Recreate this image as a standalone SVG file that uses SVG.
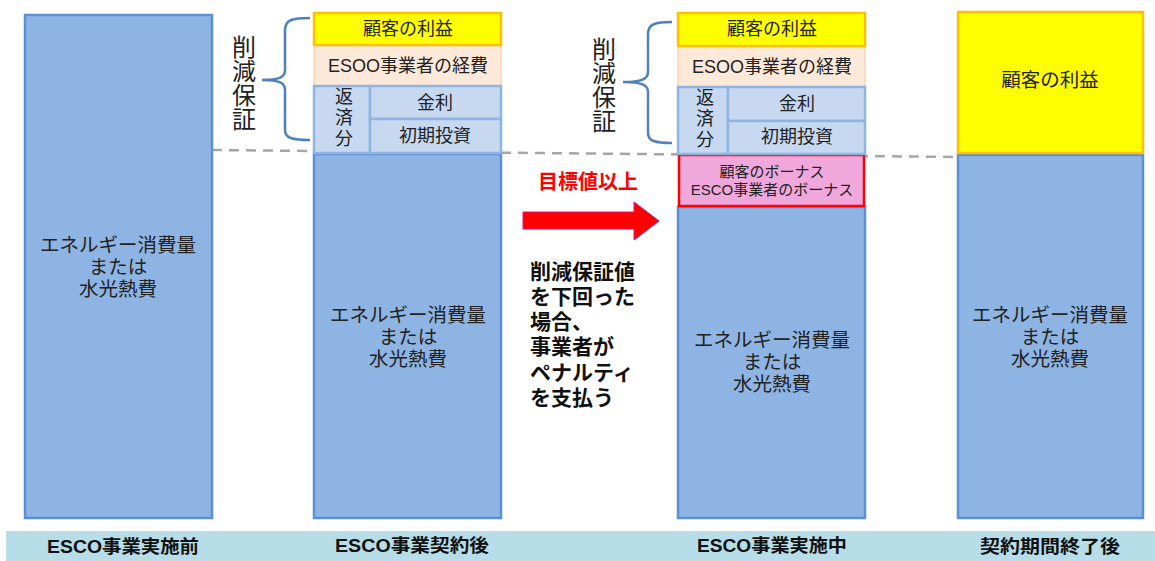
<svg xmlns="http://www.w3.org/2000/svg" width="1155" height="561" viewBox="0 0 1155 561">
<style>
text{font-family:"Liberation Sans","Noto Sans CJK JP",sans-serif;fill:#222;}
.blue{fill:#8EB4E3;stroke:#5B8FD6;stroke-width:2.5;}
.lblue{fill:#C6D9F1;stroke:#8EB4E3;stroke-width:2.5;}
.yel{fill:#FFFF00;stroke:#FFC000;stroke-width:2.5;}
.peach{fill:#FDE9D9;stroke:#FCD5B5;stroke-width:1.5;}
.brace{fill:none;stroke:#4F81BD;stroke-width:2.5;}
.t19{font-size:19.5px;text-anchor:middle;}
.t18{font-size:18px;text-anchor:middle;}
.vert{font-size:24px;writing-mode:vertical-rl;letter-spacing:0px;}
.vsm{font-size:18px;writing-mode:vertical-rl;letter-spacing:3px;}
.lab{font-size:18px;font-weight:bold;text-anchor:middle;fill:#111;}
.bold{font-size:21px;font-weight:bold;fill:#111;}
</style>
<rect x="6" y="531" width="1149" height="30" fill="#B7DDE8"/>
<g id="connectors">
<line x1="212" y1="150" x2="962" y2="157" stroke="#A6A6A6" stroke-width="2.5" stroke-dasharray="10,7"/>
<path class="brace" d="M310,18 C292,18 285,20 285,30 L285,70 C285,77 280,80 262,80 C280,80 285,83 285,90 L285,130 C285,138 292,140 310,140"/>
<path class="brace" d="M672,22 C655,22 648,24 648,34 L648,72 C648,79 642,82 623,82 C642,82 648,85 648,92 L648,133 C648,141 655,143 672,143"/>
<path d="M523,212 L634,212 L634,202 L659,221 L634,240 L634,229 L523,229 Z" fill="#FF0000" stroke="#E8107A" stroke-width="1"/>
</g>
<g id="col1">
<rect class="blue" x="25" y="15" width="187" height="503"/>
<text class="t19" x="118" y="252">エネルギー消費量<tspan x="118" dy="22">または</tspan><tspan x="118" dy="22">水光熱費</tspan></text>
</g>
<g id="col2">
<rect class="blue" x="314" y="154" width="187" height="364"/>
<text class="t19" x="408" y="322">エネルギー消費量<tspan x="408" dy="22">または</tspan><tspan x="408" dy="22">水光熱費</tspan></text>
<rect class="peach" x="314" y="45" width="187" height="41"/>
<text class="t18" x="408" y="72">ESOO事業者の経費</text>
<rect class="yel" x="314" y="13" width="187" height="32"/>
<text class="t18" x="408" y="35">顧客の利益</text>
<rect class="lblue" x="314" y="86" width="56" height="67"/>
<rect class="lblue" x="370" y="86" width="131" height="33"/>
<rect class="lblue" x="370" y="119" width="131" height="34"/>
<text class="vsm" x="342" y="87">返済分</text>
<text class="t18" x="435" y="109">金利</text>
<text class="t18" x="435" y="142">初期投資</text>
</g>
<g id="label1">
<text class="vert" x="242" y="35">削減保証</text>
</g>
<g id="col3">
<rect class="blue" x="678" y="207" width="187" height="311"/>
<text class="t19" x="772" y="347">エネルギー消費量<tspan x="772" dy="22">または</tspan><tspan x="772" dy="22">水光熱費</tspan></text>
<rect fill="#F0A8DC" stroke="#FF0000" stroke-width="2.5" x="679" y="155" width="185" height="51"/>
<text x="772" y="177" font-size="15" text-anchor="middle">顧客のボーナス<tspan x="772" dy="18">ESCO事業者のボーナス</tspan></text>
<rect class="peach" x="678" y="46" width="187" height="41"/>
<text class="t18" x="772" y="73">ESOO事業者の経費</text>
<rect class="yel" x="678" y="13" width="187" height="33"/>
<text class="t18" x="772" y="35">顧客の利益</text>
<rect class="lblue" x="678" y="87" width="50" height="67"/>
<rect class="lblue" x="728" y="87" width="137" height="34"/>
<rect class="lblue" x="728" y="121" width="137" height="33"/>
<text class="vsm" x="703" y="88">返済分</text>
<text class="t18" x="797" y="110">金利</text>
<text class="t18" x="797" y="143">初期投資</text>
</g>
<g id="label2">
<text class="vert" x="602" y="37">削減保証</text>
</g>
<g id="note">
<text x="588" y="189" font-size="20" font-weight="bold" text-anchor="middle" style="fill:#FF0000">目標値以上</text>
<text class="bold" x="530" y="279">削減保証値<tspan x="530" dy="25">を下回った</tspan><tspan x="530" dy="25">場合、</tspan><tspan x="530" dy="25">事業者が</tspan><tspan x="530" dy="26">ペナルティ</tspan><tspan x="530" dy="25">を支払う</tspan></text>
</g>
<g id="col4">
<rect class="blue" x="958" y="155" width="185" height="363"/>
<text class="t19" x="1050" y="322">エネルギー消費量<tspan x="1050" dy="22">または</tspan><tspan x="1050" dy="22">水光熱費</tspan></text>
<rect class="yel" x="958" y="12" width="185" height="141"/>
<text class="t19" x="1050" y="87">顧客の利益</text>
</g>
<g id="labels">
<text class="lab" x="123" y="553" textLength="152" lengthAdjust="spacingAndGlyphs">ESCO事業実施前</text>
<text class="lab" x="412" y="552" textLength="154" lengthAdjust="spacingAndGlyphs">ESCO事業契約後</text>
<text class="lab" x="772" y="552" textLength="150" lengthAdjust="spacingAndGlyphs">ESCO事業実施中</text>
<text class="lab" x="1050" y="553" textLength="140" lengthAdjust="spacingAndGlyphs">契約期間終了後</text>
</g>
</svg>
